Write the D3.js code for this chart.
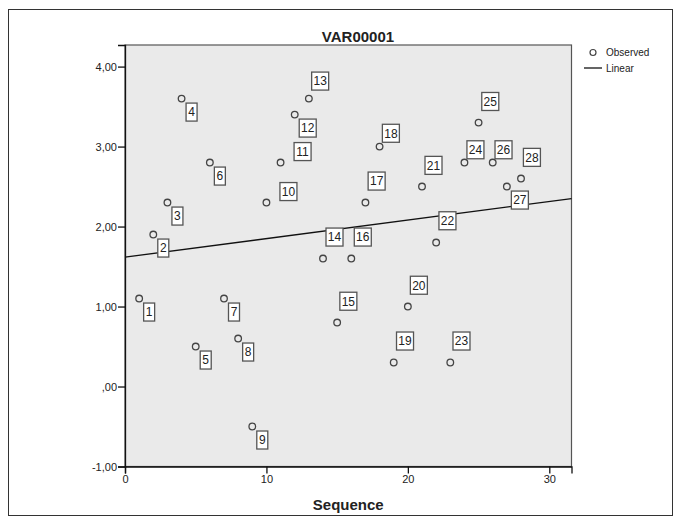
<!DOCTYPE html>
<html>
<head>
<meta charset="utf-8">
<script src="https://cdn.jsdelivr.net/npm/d3@7"></script>
<style>
  body { margin: 0; background: #fff; }
  svg text { font-family: "Liberation Sans", Arial, sans-serif; fill: #222; }
</style>
</head>
<body>
<div id="chart"></div>
<script>
// Observed values (VAR00001) by sequence number
const sequence = [1, 2, 3, 4, 5, 6, 7, 8, 9, 10, 11, 12, 13, 14, 15, 16, 17, 18, 19, 20, 21, 22, 23, 24, 25, 26, 27, 28];
const values = [1.1, 1.9, 2.3, 3.6, 0.5, 2.8, 1.1, 0.6, -0.5, 2.3, 2.8, 3.4, 3.6, 1.6, 0.8, 1.6, 2.3, 3.0, 0.3, 1.0, 2.5, 1.8, 0.3, 2.8, 3.3, 2.8, 2.5, 2.6];
const xTicks = [0, 10, 20, 30];
const yTicks = [-1, 0, 1, 2, 3, 4];

// where each case label sits relative to its point (px, box centre)
const labelOffsets = [
    [10, 13.5], [10, 13.5], [10, 13.5], [10, 13.5], [10, 13.5], [10, 13.5], [10, 13.5],
    [10, 13.5], [10, 13.5], [22, -11], [22, -11], [13, 13.5], [11.3, -17.5], [11.5, -21.5],
    [11.2, -21.3], [11.5, -21.5], [11.2, -21.5], [11.3, -13.3], [11.3, -21.5], [11, -21.3],
    [11.5, -21.2], [11.3, -21.8], [11.2, -21.5], [11, -12.8], [11.7, -21.1], [10.8, -12.8],
    [13, 13.5], [10.9, -21.2]
];

const W = 681, H = 523;
const plot = { left: 125, top: 45, right: 571.5, bottom: 466.5 };

const svg = d3.select("#chart").append("svg")
    .attr("width", W)
    .attr("height", H);

// outer frame
svg.append("rect")
    .attr("x", 8.5).attr("y", 9.5)
    .attr("width", 664).attr("height", 506)
    .attr("fill", "none")
    .attr("stroke", "#333")
    .attr("stroke-width", 1);

const x = d3.scaleLinear().domain([0, 31.57]).range([plot.left, plot.right]);
const y = d3.scaleLinear().domain([-1, 4.27]).range([plot.bottom, plot.top]);

// plot background
svg.append("rect")
    .attr("x", plot.left).attr("y", plot.top)
    .attr("width", plot.right - plot.left)
    .attr("height", plot.bottom - plot.top)
    .attr("fill", "#eaeaea")
    .attr("stroke", "#555")
    .attr("stroke-width", 1.2);

// linear fit (least squares)
const mx = d3.mean(sequence), my = d3.mean(values);
const sxy = d3.sum(sequence, (d, i) => (d - mx) * (values[i] - my));
const sxx = d3.sum(sequence, d => (d - mx) * (d - mx));
const slope = sxy / sxx, intercept = my - slope * mx;
const xd = x.domain();

svg.append("line")
    .attr("x1", x(xd[0])).attr("y1", y(intercept + slope * xd[0]))
    .attr("x2", x(xd[1])).attr("y2", y(intercept + slope * xd[1]))
    .attr("stroke", "#111")
    .attr("stroke-width", 1.3);

// axes (comma decimals, plain hyphen for minus, no leading zero)
const fmt = v => d3.format(".2f")(v).replace("\u2212", "-").replace(".", ",").replace(/^(-?)0,/, "$1,");

const yAxis = svg.append("g")
    .attr("transform", `translate(${plot.left},0)`)
    .call(d3.axisLeft(y).tickValues(yTicks).tickFormat(fmt).tickSize(7).tickPadding(1));
yAxis.select(".domain").attr("stroke", "#111").attr("stroke-width", 1.3);
yAxis.selectAll(".tick line").attr("stroke", "#111").attr("stroke-width", 1.3);
yAxis.selectAll("text").style("font-size", "11px").attr("fill", "#222");

const xAxis = svg.append("g")
    .attr("transform", `translate(0,${plot.bottom})`)
    .call(d3.axisBottom(x).tickValues(xTicks).tickSize(7).tickPadding(2));
xAxis.select(".domain").attr("stroke", "#111").attr("stroke-width", 1.3);
xAxis.selectAll(".tick line").attr("stroke", "#111").attr("stroke-width", 1.3);
xAxis.selectAll("text").style("font-size", "11px").attr("fill", "#222");

// points
svg.selectAll(".point")
    .data(values)
    .join("circle")
    .attr("class", "point")
    .attr("cx", (d, i) => x(sequence[i]))
    .attr("cy", d => y(d))
    .attr("r", 3.3)
    .attr("fill", "none")
    .attr("stroke", "#444")
    .attr("stroke-width", 1.3);

// case labels
const labels = svg.selectAll(".case-label")
    .data(values)
    .join("g")
    .attr("class", "case-label")
    .attr("transform", (d, i) => `translate(${x(sequence[i]) + labelOffsets[i][0]},${y(d) + labelOffsets[i][1]})`);

labels.append("rect")
    .attr("x", (d, i) => sequence[i] < 10 ? -5.5 : -8.5)
    .attr("y", -9)
    .attr("width", (d, i) => sequence[i] < 10 ? 11 : 17)
    .attr("height", 18)
    .attr("fill", "#fff")
    .attr("stroke", "#555")
    .attr("stroke-width", 1.3);

labels.append("text")
    .attr("text-anchor", "middle")
    .attr("dy", "0.36em")
    .style("font-size", "12px")
    .text((d, i) => sequence[i]);

// title and axis title
svg.append("text")
    .attr("x", 358)
    .attr("y", 42)
    .attr("text-anchor", "middle")
    .style("font-size", "15px")
    .style("font-weight", "bold")
    .text("VAR00001");

svg.append("text")
    .attr("x", (plot.left + plot.right) / 2)
    .attr("y", 510)
    .attr("text-anchor", "middle")
    .style("font-size", "15px")
    .style("font-weight", "bold")
    .text("Sequence");

// legend
const legend = svg.append("g");
legend.append("circle")
    .attr("cx", 593).attr("cy", 52.5)
    .attr("r", 3)
    .attr("fill", "none")
    .attr("stroke", "#444")
    .attr("stroke-width", 1.2);
legend.append("text")
    .attr("x", 606).attr("y", 56)
    .style("font-size", "10px")
    .text("Observed");
legend.append("line")
    .attr("x1", 584).attr("x2", 602)
    .attr("y1", 68).attr("y2", 68)
    .attr("stroke", "#111")
    .attr("stroke-width", 1.3);
legend.append("text")
    .attr("x", 606).attr("y", 72)
    .style("font-size", "10px")
    .text("Linear");
</script>
</body>
</html>
